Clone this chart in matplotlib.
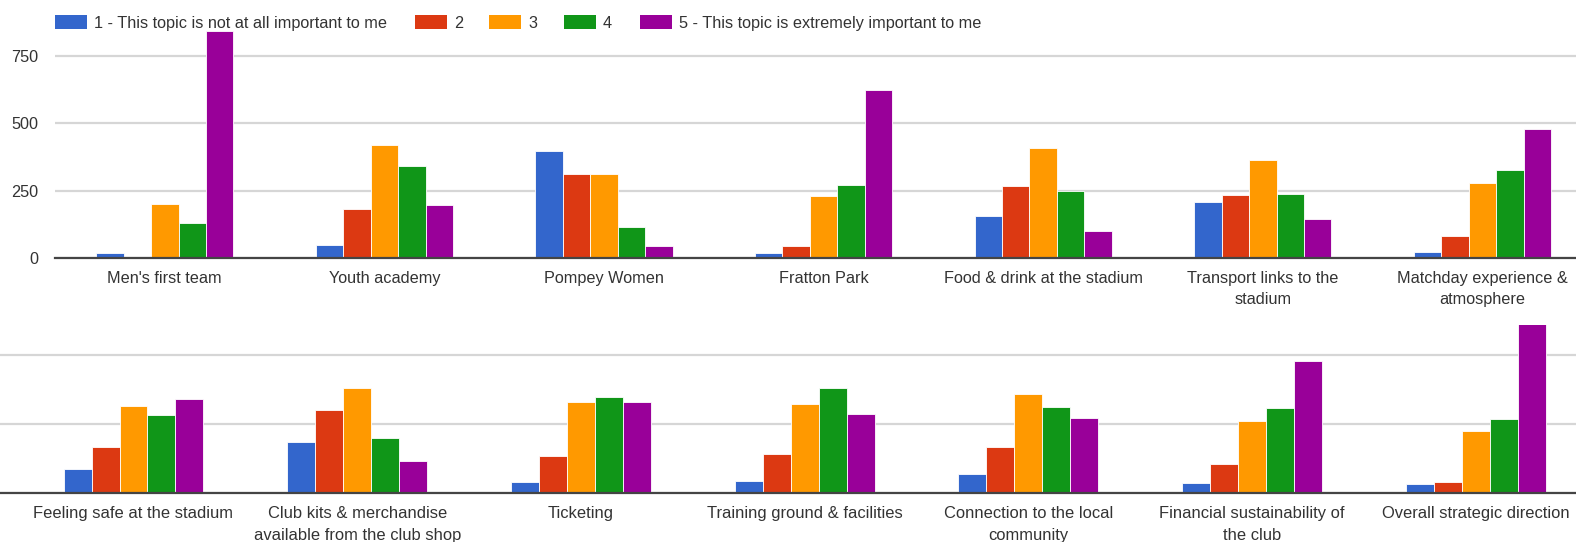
import numpy as np
import matplotlib
matplotlib.use("Agg")
import matplotlib.pyplot as plt
from matplotlib.patches import Rectangle

plt.rcParams["font.family"] = ["Liberation Sans", "DejaVu Sans"]

# Response levels
levels = [
    "1 - This topic is not at all important to me",
    "2",
    "3",
    "4",
    "5 - This topic is extremely important to me",
]
colors = ["#3366cc", "#dc3912", "#ff9900", "#109618", "#990099"]

# First row of topics
topics_top = [
    "Men's first team",
    "Youth academy",
    "Pompey Women",
    "Fratton Park",
    "Food & drink at the stadium",
    "Transport links to the\nstadium",
    "Matchday experience &\natmosphere",
]
top_1 = [20, 49, 397, 20, 156, 207, 24]
top_2 = [3, 181, 313, 47, 267, 233, 82]
top_3 = [200, 418, 313, 232, 408, 362, 277]
top_4 = [131, 342, 116, 271, 248, 237, 328]
top_5 = [842, 196, 45, 624, 101, 146, 478]

# Second row of topics
topics_bottom = [
    "Feeling safe at the stadium",
    "Club kits & merchandise\navailable from the club shop",
    "Ticketing",
    "Training ground & facilities",
    "Connection to the local\ncommunity",
    "Financial sustainability of\nthe club",
    "Overall strategic direction",
]
bot_1 = [87, 186, 40, 45, 71, 36, 32]
bot_2 = [168, 302, 136, 141, 166, 107, 42]
bot_3 = [314, 381, 331, 321, 357, 261, 226]
bot_4 = [284, 201, 347, 381, 312, 307, 267]
bot_5 = [339, 118, 331, 287, 272, 478, 720]

yticks = [0, 250, 500, 750]

W, H = 1576, 542
fig = plt.figure(figsize=(W / 100, H / 100), dpi=100)

TEXT = "#333333"
GRID = "#d6d6d6"
BASE = "#444444"
FS = 11.7


def px_axes(left, top, right, bottom):
    return fig.add_axes([left / W, 1 - bottom / H, (right - left) / W, (bottom - top) / H])


def draw_panel(ax, topics, series, show_ylabels, fs, pad, lsp):
    x = np.arange(len(topics))
    bw = 0.125
    for k, (vals, col) in enumerate(zip(series, colors)):
        offs = (k - 2) * bw
        ax.bar(x + offs, vals, width=bw, color=col, edgecolor="white",
               linewidth=0.6, zorder=3, label=levels[k])
    ax.set_xticks(x)
    ax.set_xticklabels(topics, fontsize=fs, color=TEXT, linespacing=lsp)
    ax.tick_params(axis="x", length=0, pad=pad)
    ax.set_yticks(yticks)
    if show_ylabels:
        ax.set_yticklabels([str(v) for v in yticks], fontsize=FS, color=TEXT)
    else:
        ax.set_yticklabels([])
    ax.tick_params(axis="y", length=0, pad=12)
    ax.yaxis.grid(True, color=GRID, linewidth=1.6, zorder=0)
    ax.set_axisbelow(True)
    for s in ["top", "right", "left"]:
        ax.spines[s].set_visible(False)
    ax.spines["bottom"].set_color(BASE)
    ax.spines["bottom"].set_linewidth(1.6)
    ax.spines["bottom"].set_zorder(4)


# Upper panel: axis from x=55 to the right edge, baseline 258 px from top
ax1 = px_axes(55, 0, W, 258.3)
draw_panel(ax1, topics_top, [top_1, top_2, top_3, top_4, top_5], True, FS, 9, 1.55)
ax1.set_xlim(-0.5, -0.5 + (W - 55) / 219.6)
ax1.set_ylim(0, 258.3 / 0.2704)

# Lower panel: slightly larger scale, left side runs past the edge
ax2 = px_axes(0, 325, W, 493.3)
draw_panel(ax2, topics_bottom, [bot_1, bot_2, bot_3, bot_4, bot_5], False, 11.9, 9.5, 1.58)
ax2.set_xlim(-133.5 / 223.7, (W - 133.5) / 223.7)
ax2.set_ylim(0, (493.3 - 325) / 0.277)

# Legend row along the top edge (pixel layout)
legend_left = [55, 415, 489, 564, 640]
for x0, col, lab in zip(legend_left, colors, levels):
    fig.add_artist(Rectangle((x0 / W, 1 - 29 / H), 32 / W, 14 / H,
                             transform=fig.transFigure, facecolor=col,
                             edgecolor="none"))
    fig.text((x0 + 39) / W, 1 - 22 / H, lab, fontsize=FS, color=TEXT,
             ha="left", va="center_baseline")

fig.savefig("out.png", dpi=100, facecolor="white")
